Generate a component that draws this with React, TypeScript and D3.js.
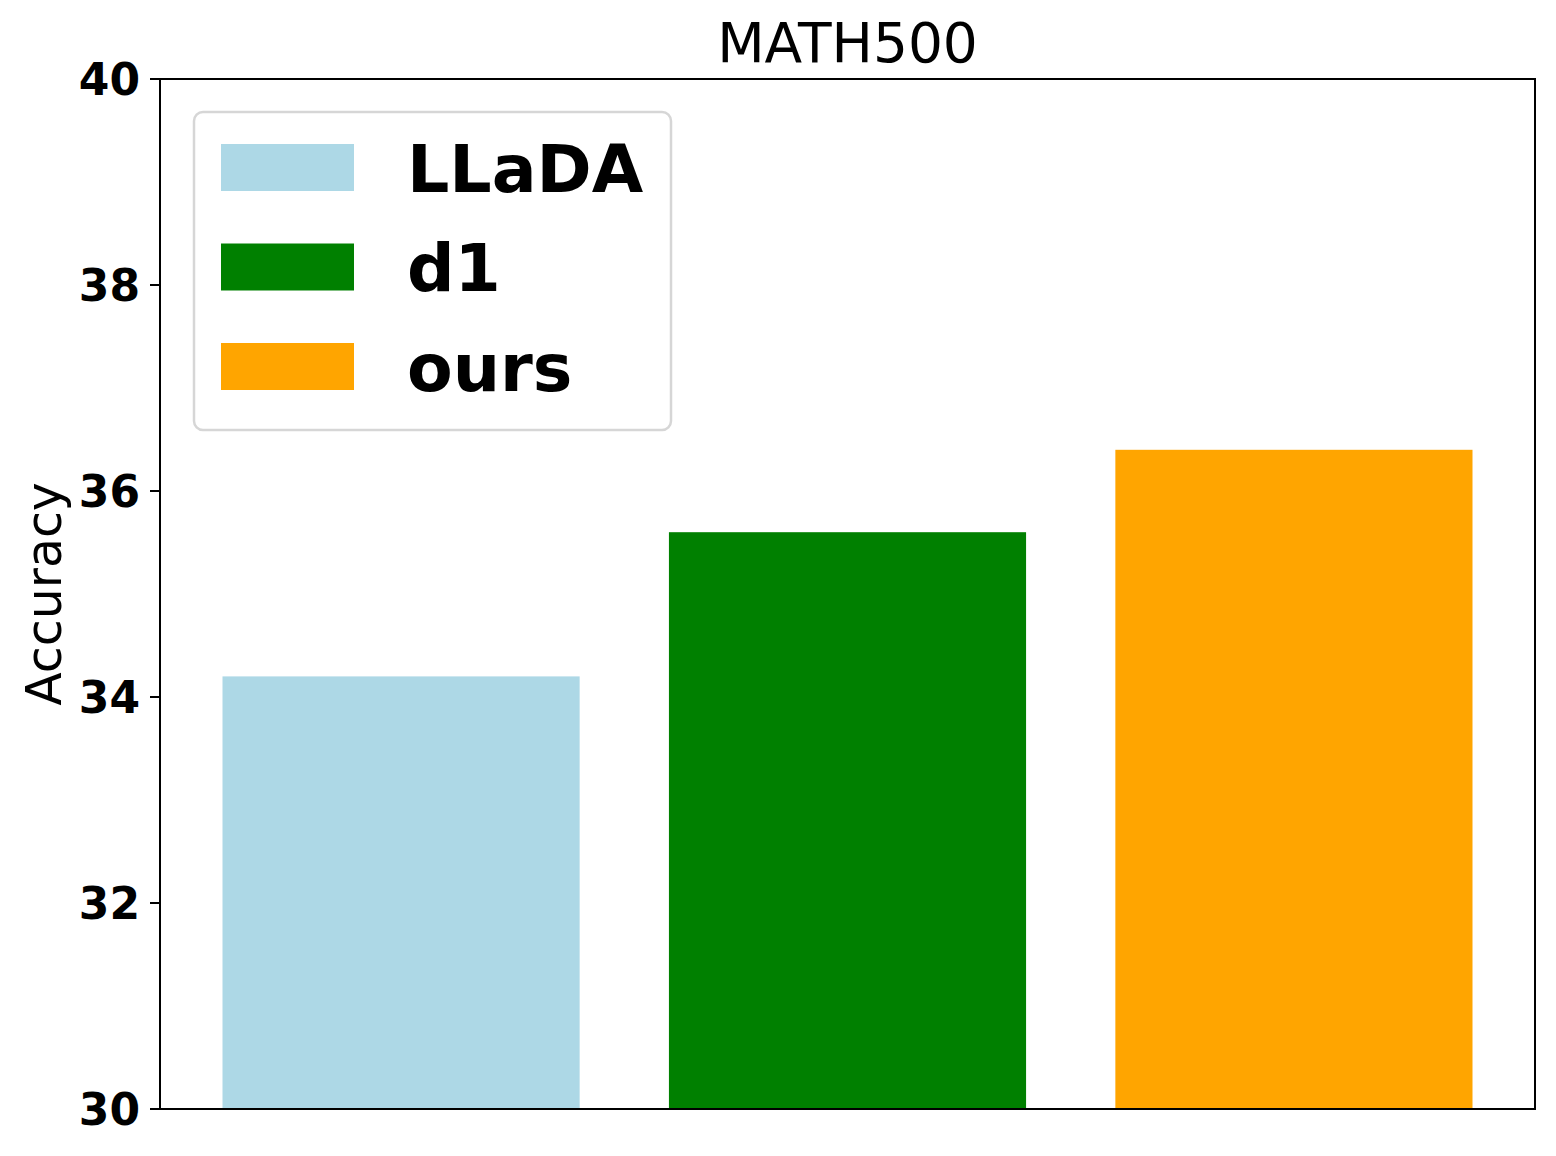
import React from "react";
import * as d3 from "d3";

const categories = ["LLaDA", "d1", "ours"];
const values = [34.2, 35.6, 36.4];
const colors = ["#add8e6", "#008000", "#ffa500"];
const yTicks = [30, 32, 34, 36, 38, 40];
const title = "MATH500";
const yLabel = "Accuracy";

const W = 1556;
const H = 1156;
const M = { left: 160, right: 1535, top: 79, bottom: 1109 };

export default function App() {
  const x = d3.scaleLinear().domain([-0.54, 2.54]).range([M.left, M.right]);
  const y = d3.scaleLinear().domain([30, 40]).range([M.bottom, M.top]);
  const barW = 0.8;
  const font = "DejaVu Sans, sans-serif";

  const legX = 194, legY = 112, legW = 477, legH = 318;
  const rowStep = 99.5;

  return (
    <div style={{ position: "absolute", left: 0, top: 0 }}>
      <svg width={W} height={H} style={{ display: "block", background: "#fff" }}>
        {values.map((v, i) => (
          <rect
            key={categories[i]}
            x={x(i - barW / 2)}
            y={y(v)}
            width={x(i + barW / 2) - x(i - barW / 2)}
            height={y(30) - y(v)}
            fill={colors[i]}
          />
        ))}
        <rect
          x={M.left}
          y={M.top}
          width={M.right - M.left}
          height={M.bottom - M.top}
          fill="none"
          stroke="#000"
          strokeWidth={2}
        />
        {yTicks.map((t) => (
          <g key={t}>
            <line x1={M.left - 10} x2={M.left} y1={y(t)} y2={y(t)} stroke="#000" strokeWidth={2} />
            <text
              x={M.left - 20}
              y={y(t)}
              dy="0.36em"
              textAnchor="end"
              fontFamily={font}
              fontWeight="bold"
              fontSize={44}
              fill="#000"
            >
              {t}
            </text>
          </g>
        ))}
        <text
          x={(M.left + M.right) / 2}
          y={62}
          textAnchor="middle"
          fontFamily={font}
          fontSize={55}
          fill="#000"
        >
          {title}
        </text>
        <text
          transform={`translate(61,${(M.top + M.bottom) / 2}) rotate(-90)`}
          textAnchor="middle"
          fontFamily={font}
          fontSize={49}
          fill="#000"
        >
          {yLabel}
        </text>
        <rect
          x={legX}
          y={legY}
          width={legW}
          height={legH}
          rx={9}
          ry={9}
          fill="#fff"
          fillOpacity={0.8}
          stroke="#d6d6d6"
          strokeWidth={2.5}
        />
        {categories.map((c, i) => (
          <g key={c}>
            <rect x={221} y={144 + i * rowStep} width={133} height={47} fill={colors[i]} />
            <text
              x={407}
              y={191.5 + i * rowStep}
              fontFamily={font}
              fontWeight="bold"
              fontSize={66.5}
              fill="#000"
            >
              {c}
            </text>
          </g>
        ))}
      </svg>
    </div>
  );
}
